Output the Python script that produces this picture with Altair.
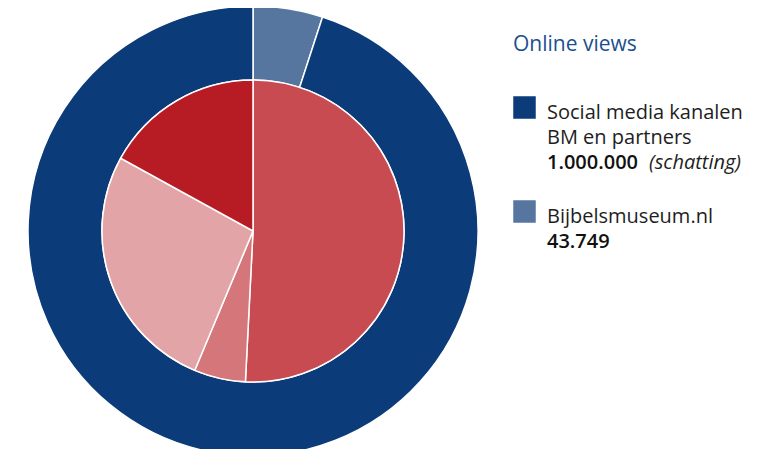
import altair as alt
import pandas as pd

outer_labels = ["Bijbelsmuseum.nl", "Social media kanalen BM en partners"]
outer_values = [5.0, 95.0]
outer_colors = ["#5676A0", "#0B3B78"]

# Inner pie: unlabelled segments (shares)
inner_labels = ["Segment 1", "Segment 2", "Segment 3", "Segment 4"]
inner_values = [50.8, 5.5, 26.7, 17.0]
inner_colors = ["#C84B51", "#D5767A", "#E3A4A7", "#B71C25"]

# Legend texts
legend_title = "Online views"
legend_item1 = ["Social media kanalen", "BM en partners"]
legend_item2 = ["Bijbelsmuseum.nl"]
legend_numbers = ["1.000.000", "43.749"]
legend_note = "(schatting)"

FONT = "Open Sans"
TXT = "#1E1E1E"

outer_df = pd.DataFrame({"label": outer_labels, "value": outer_values, "idx": range(len(outer_labels))})
inner_df = pd.DataFrame({"label": inner_labels, "value": inner_values, "idx": range(len(inner_labels))})

CX, CY = 245, 223

outer = alt.Chart(outer_df).mark_arc(radius=225, radius2=151, stroke="white", strokeWidth=1.5).encode(
    theta=alt.Theta("value:Q", stack=True),
    order=alt.Order("idx:Q"),
    color=alt.Color("label:N", scale=alt.Scale(domain=outer_labels, range=outer_colors), legend=None),
    x=alt.value(CX), y=alt.value(CY),
)

inner = alt.Chart(inner_df).mark_arc(radius=151, stroke="white", strokeWidth=1.5).encode(
    theta=alt.Theta("value:Q", stack=True),
    order=alt.Order("idx:Q"),
    color=alt.Color("label:N", scale=alt.Scale(domain=inner_labels, range=inner_colors), legend=None),
    x=alt.value(CX), y=alt.value(CY),
)

def txt(s, x, y, size=20, color=TXT, weight="normal", style="normal"):
    return alt.Chart(pd.DataFrame({"t": [s]})).mark_text(
        align="left", baseline="alphabetic", font=FONT, fontSize=size,
        color=color, fontWeight=weight, fontStyle=style,
    ).encode(text="t:N", x=alt.value(x), y=alt.value(y))

def square(label, y):
    return alt.Chart(pd.DataFrame({"label": [label]})).mark_square(size=506, opacity=1).encode(
        x=alt.value(516.5), y=alt.value(y),
        color=alt.Color("label:N", scale=alt.Scale(domain=outer_labels, range=outer_colors), legend=None),
    )

layers = [
    outer, inner,
    txt(legend_title, 505, 43, size=21, color="#1C4F8E"),
    square(outer_labels[1], 99.5),
    txt(legend_item1[0], 539, 110.5),
    txt(legend_item1[1], 539, 136),
    txt(legend_numbers[0], 539, 161, weight=600, color="#111111"),
    txt(legend_note, 641, 161, style="italic"),
    square(outer_labels[0], 203.5),
    txt(legend_item2[0], 539, 215),
    txt(legend_numbers[1], 539, 240, weight=600, color="#111111"),
]

chart = alt.layer(*layers).resolve_scale(
    theta="independent", color="independent"
).properties(
    width=761, height=441, padding=0, autosize="none"
).configure_view(stroke=None)

chart.save("out.html", embed_options={"renderer": "svg", "actions": False})
